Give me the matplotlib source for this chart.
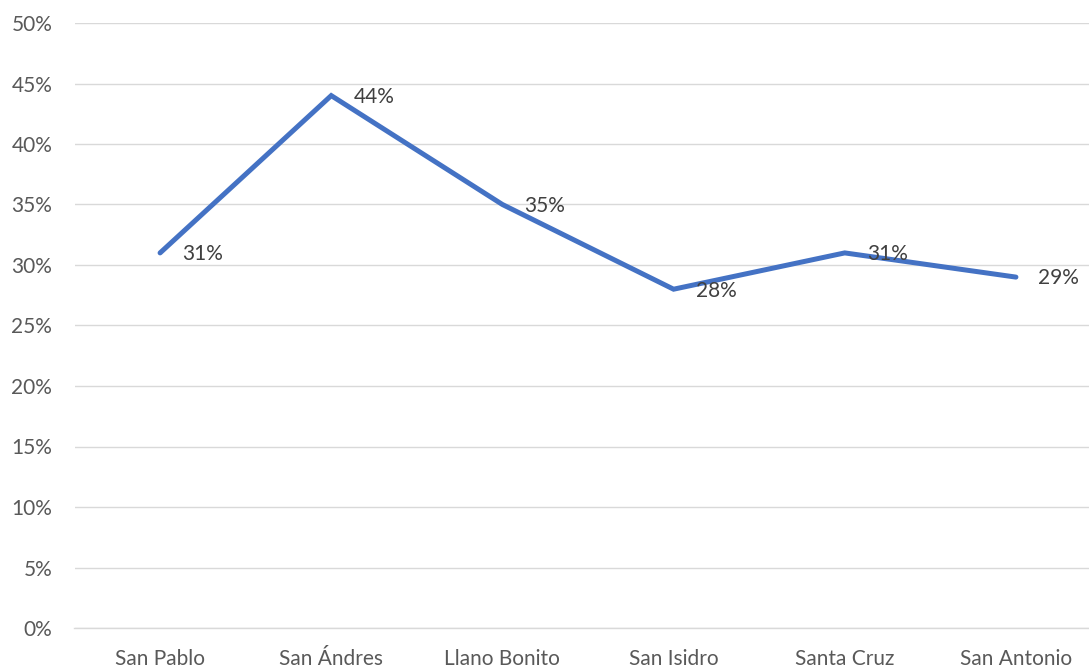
import matplotlib
matplotlib.use("Agg")
import matplotlib.pyplot as plt
from matplotlib.ticker import FuncFormatter, MultipleLocator

categories = ["San Pablo", "San Ándres", "Llano Bonito", "San Isidro", "Santa Cruz", "San Antonio"]
values = [0.31, 0.44, 0.35, 0.28, 0.31, 0.29]

plt.rcParams['font.family'] = ['Lato', 'DejaVu Sans']

fig = plt.figure(figsize=(10.89, 6.69), dpi=100)
W, H = 1089, 669
left, right = 74.5, 1101.5
top, bottom = 23, 628
ax = fig.add_axes([left / W, 1 - bottom / H, (right - left) / W, (bottom - top) / H])

x = list(range(len(categories)))
ax.plot(x, values, color="#4472C4", linewidth=3.6, solid_capstyle="round", solid_joinstyle="miter", zorder=3)

for xi, v in zip(x, values):
    ax.annotate(f"{round(v*100)}%", (xi, v), xytext=(16, -1), textcoords="offset points",
                ha="left", va="center", fontsize=15, color="#404040", zorder=4)

ax.set_xlim(-0.5, len(categories) - 0.5)
ax.set_ylim(0, 0.5)
ax.yaxis.set_major_locator(MultipleLocator(0.05))
ax.yaxis.set_major_formatter(FuncFormatter(lambda v, p: f"{round(v*100)}%"))
ax.set_xticks(x)
ax.set_xticklabels(categories)

ax.grid(axis="y", color="#D9D9D9", linewidth=1)
ax.set_axisbelow(True)
for s in ["top", "right", "left"]:
    ax.spines[s].set_visible(False)
ax.spines["bottom"].set_color("#D9D9D9")
ax.spines["bottom"].set_linewidth(1)
ax.tick_params(axis="both", length=0, labelsize=15, labelcolor="#595959")
ax.tick_params(axis="x", pad=15)
ax.tick_params(axis="y", pad=16)

fig.savefig("out.png", dpi=100)
